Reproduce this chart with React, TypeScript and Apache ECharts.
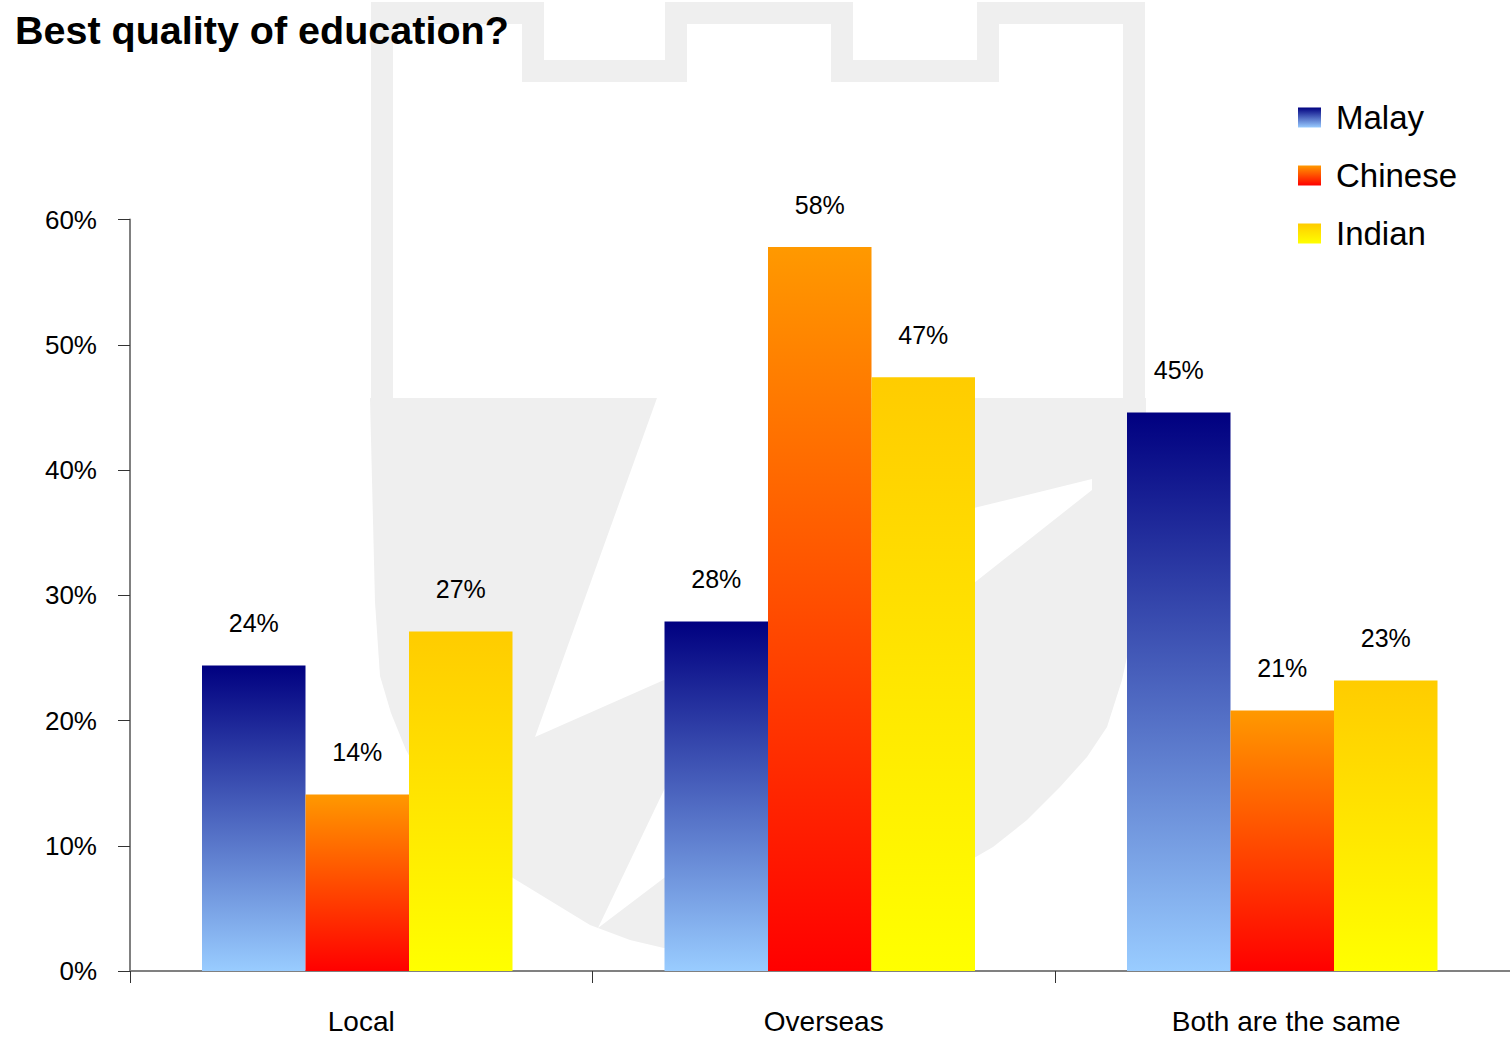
import React, { useEffect, useRef } from "react";
import * as echarts from "echarts";

const categories = ["Local", "Overseas", "Both are the same"];
const seriesNames = ["Malay", "Chinese", "Indian"];
const malay = [24.4, 27.9, 44.6];
const chinese = [14.1, 57.8, 20.8];
const indian = [27.1, 47.4, 23.2];
const gradientTop = ["#000080", "#FF9900", "#FFCC00"];
const gradientBottom = ["#99CCFF", "#FF0000", "#FFFF00"];
const titleText = "Best quality of education?";

const FONT = "'Liberation Sans', Arial, sans-serif";
const WM = "#efefef";

function grad(top: string, bottom: string) {
  return new echarts.graphic.LinearGradient(0, 0, 0, 1, [
    { offset: 0, color: top },
    { offset: 1, color: bottom },
  ]);
}

export default function App() {
  const ref = useRef<HTMLDivElement>(null);
  useEffect(() => {
    if (!ref.current) return;
    const chart = echarts.init(ref.current, undefined, { renderer: "svg" });
    const values = [malay, chinese, indian];
    const series: any[] = seriesNames.map((name, i) => ({
      name,
      type: "bar",
      data: values[i],
      barWidth: 103.5,
      barGap: "0%",
      itemStyle: { color: grad(gradientTop[i], gradientBottom[i]) },
      label: {
        show: true,
        position: "top",
        distance: 30,
        fontFamily: FONT,
        fontSize: 25,
        color: "#000",
        formatter: (p: any) => Math.round(p.value) + "%",
      },
      z: 3,
    }));
    // empty spacer series: shifts the bar group slightly left, as in the original
    series.push({
      name: "spacer",
      type: "bar",
      data: categories.map(() => null),
      barWidth: 8,
      barGap: "0%",
      silent: true,
    });
    chart.setOption({
      animation: false,
      backgroundColor: "#fff",
      title: {
        text: titleText,
        left: 15,
        top: 10,
        padding: 0,
        textStyle: { fontFamily: FONT, fontSize: 39.5, fontWeight: "bold", color: "#000" },
      },
      graphic: [
        {
          type: "polygon",
          z: -10,
          silent: true,
          shape: {
            points: [
              [370, 398], [1146, 398], [1146, 540], [1135, 620], [1122, 680], [1107, 727],
              [1087, 757], [1060, 787], [1027, 820], [993, 847], [974, 858], [900, 895],
              [820, 925], [740, 942], [664, 948], [630, 940], [590, 925], [513, 878],
              [477, 854], [437, 806], [406, 750], [391, 713], [380, 676], [375, 602],
            ],
          },
          style: { fill: WM },
        },
        {
          type: "polygon",
          z: -9,
          silent: true,
          shape: {
            points: [
              [657, 398], [870, 398], [770, 558], [1092, 479], [1092, 490], [974, 583],
              [664, 878], [598, 928], [664, 790], [710, 700], [664, 680], [535, 737],
            ],
          },
          style: { fill: "#fff" },
        },
        {
          type: "polyline",
          z: -9,
          silent: true,
          shape: {
            points: [
              [382, 420], [382, 13], [533, 13], [533, 71], [676, 71], [676, 13], [842, 13],
              [842, 71], [988, 71], [988, 13], [1134, 13], [1134, 420],
            ],
          },
          style: { stroke: WM, lineWidth: 22, fill: "none", lineJoin: "miter" },
        },
      ],
      legend: {
        orient: "vertical",
        left: 1298,
        top: 101,
        padding: 0,
        icon: "rect",
        itemWidth: 23,
        itemHeight: 20,
        itemGap: 25,
        textStyle: { fontFamily: FONT, fontSize: 33, color: "#000", padding: [0, 0, 0, 10] },
        data: seriesNames,
      },
      grid: { left: 130, top: 219.5, right: 2.5, bottom: 66, containLabel: false },
      xAxis: {
        type: "category",
        data: categories,
        axisLine: { show: true, lineStyle: { color: "#808080", width: 2 } },
        axisTick: { show: true, length: 12, lineStyle: { color: "#333" } },
        axisLabel: { fontFamily: FONT, fontSize: 28, color: "#000", margin: 36 },
        splitLine: { show: false },
      },
      yAxis: {
        type: "value",
        min: 0,
        max: 60,
        interval: 10,
        axisLine: { show: true, lineStyle: { color: "#808080", width: 2 } },
        axisTick: { show: true, length: 12, lineStyle: { color: "#333" } },
        axisLabel: {
          fontFamily: FONT,
          fontSize: 26,
          color: "#000",
          margin: 33,
          formatter: "{value}%",
        },
        splitLine: { show: false },
      },
      series,
    });
    return () => chart.dispose();
  }, []);
  return (
    <div style={{ position: "absolute", left: 0, top: 0, width: 1510, height: 1037, overflow: "hidden" }}>
      <div ref={ref} style={{ width: 1520, height: 1037 }} />
    </div>
  );
}
